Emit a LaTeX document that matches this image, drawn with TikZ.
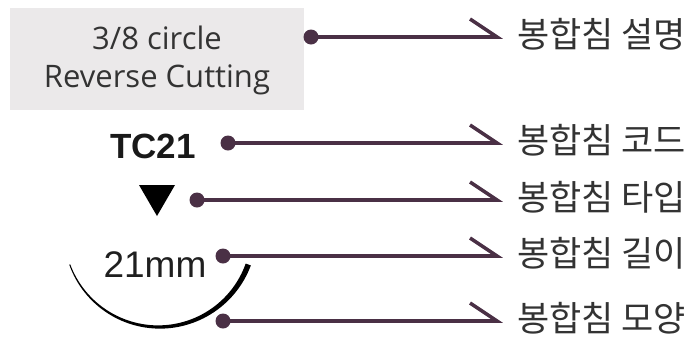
\documentclass[tikz,border=0pt]{standalone}
\usepackage{fontspec}
\setmainfont{Liberation Sans}
\newfontfamily\boxfont{Open Sans}
\newfontfamily\kofont{Noto Sans CJK KR}
\definecolor{boxgray}{HTML}{EBE9EA}
\definecolor{conncol}{HTML}{4A3045}
\definecolor{txtcol}{HTML}{333333}
\begin{document}
\begin{tikzpicture}[x=1pt,y=-1pt,
  boxtext/.style={align=center,inner sep=0pt,text=txtcol,font=\boxfont\fontsize{31}{38}\selectfont},
  codetext/.style={inner sep=0pt,text=black!90,font=\bfseries\fontsize{35}{35}\selectfont},
  lentext/.style={inner sep=0pt,text=black!88,font=\fontsize{37}{37}\selectfont},
  lbl/.style={inner sep=0pt,anchor=base west,text=txtcol,font=\kofont\fontsize{35}{35}\selectfont},
  dotn/.style={circle,fill=conncol,minimum size=15pt,inner sep=0pt},
  conn/.style={draw=conncol,line width=3.6pt,line cap=butt,line join=miter}]
\useasboundingbox (0,0) rectangle (692,338);
\fill[boxgray] (10,8) rectangle (304,110);
\node[boxtext] (desc) at (157,60) {3/8 circle\\Reverse Cutting};
\node[codetext,anchor=base] (code) at (153,158) {TC21};
\coordinate (tri) at (157,200);
\fill[black] (139,185) -- (175,185) -- (157,216) -- cycle;
\node[lentext,anchor=base] (len) at (155,277) {21mm};
\fill[black] plot[domain=160:20,samples=60] ({159+(95+(0.5+2.25*(160-\x)/140))*cos(\x)},{232+(95+(0.5+2.25*(160-\x)/140))*sin(\x)})
  -- plot[domain=20:160,samples=60] ({159+(95-(0.5+2.25*(160-\x)/140))*cos(\x)},{232+(95-(0.5+2.25*(160-\x)/140))*sin(\x)}) -- cycle;
\foreach \i/\dx/\yy/\txt in {1/311/37/설명,2/228/143/코드,3/197/200/타입,4/223/256/길이,5/223/321/모양}{
  \node[dotn] (p\i) at (\dx,\yy) {};
  \coordinate (e\i) at (497,\yy);
  \coordinate (b\i) at (470,\yy-18);
  \draw[conn] (p\i.center) -- (e\i) -- (b\i);
  \node[lbl] (l\i) at (517,\yy+10) {봉합침 \txt};
}
\end{tikzpicture}
\end{document}
